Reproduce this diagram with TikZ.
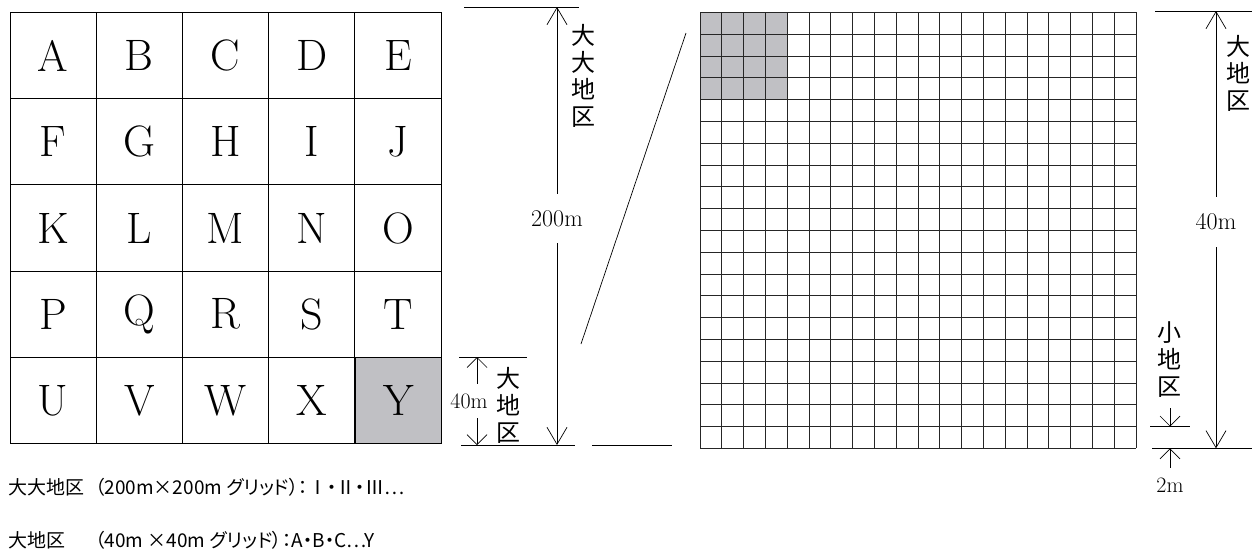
\documentclass[tikz,border=0pt]{standalone}
\usepackage{fontspec}
\newfontfamily\cjk{Noto Sans CJK JP}
\newfontfamily\cjkp[RawFeature=+palt]{Noto Sans CJK JP}
\usepackage{xcolor}
\usetikzlibrary{arrows.meta,positioning}
\definecolor{cellgray}{RGB}{192,192,196}

\begin{document}
\begin{tikzpicture}[x=1pt,y=-1pt,
cell/.style={draw,line width=0.9pt,minimum size=86.2pt,inner sep=0pt,font=\fontsize{44}{44}\selectfont},
vlabel/.style={align=center,inner sep=0pt,font=\cjk\fontsize{24}{27}\selectfont},
dimtext/.style={inner sep=0pt,font=\fontsize{24}{24}\selectfont},
keytext/.style={anchor=west,inner sep=0pt,font=\cjkp\fontsize{19}{19}\selectfont},
dim/.style={-{Straight Barb[length=17pt,width=20pt]},line width=0.7pt},
smalldim/.style={-{Straight Barb[length=10pt,width=20pt]},line width=0.7pt},
rule/.style={line width=0.8pt},
gridline/.style={line width=0.7pt,black!85}]
\useasboundingbox (0,0) rectangle (1259,550);
\foreach \l [count=\i from 0] in {A,B,C,D,E,F,G,H,I,J,K,L,M,N,O,P,Q,R,S,T,U,V,W,X}{
  \pgfmathtruncatemacro\c{mod(\i,5)}
  \pgfmathtruncatemacro\r{div(\i,5)}
  \node[cell] (\l) at ({53.1+86.2*\c},{55.6+86.2*\r}) {\l};
}
\node[cell,fill=cellgray,right=0pt of X] (Y) {Y};
\draw[rule] (464,7) -- (579,7);
\draw[rule] (461,445) -- (575,445);
\coordinate (bigtop) at (557,7);
\coordinate (bigbot) at (557,445);
\node[dimtext,minimum height=49pt] (d200) at (557,218.5) {200m};
\draw[dim] (d200.north) -- (bigtop);
\draw[dim] (d200.south) -- (bigbot);
\node[vlabel] (bigbig) at (583,76) {大\\大\\地\\区};
\draw[rule] (459,357) -- (527,357);
\coordinate (midtop) at (477,357);
\coordinate (midbot) at (477,445);
\node[dimtext,minimum height=34pt,font=\fontsize{22}{22}\selectfont] (d40) at (469,401) {40m};
\draw[smalldim] (d40.north -| midtop) -- (midtop);
\draw[smalldim] (d40.south -| midbot) -- (midbot);
\node[vlabel] (big) at (508,405) {大\\地\\区};
\draw[line width=0.7pt] (686,33) -- (581,344);
\draw[rule] (592,445) -- (672,445);
\fill[cellgray] (700,12.3) rectangle (787.2,99.5);
\foreach \k in {0,...,20}{
  \draw[gridline] ({700+21.8*\k},12.3) -- ({700+21.8*\k},448.3);
  \draw[gridline] (700,{12.3+21.8*\k}) -- (1136,{12.3+21.8*\k});
}
\draw[rule] (1155,11) -- (1252,11);
\draw[rule] (1152,448.3) -- (1252,448.3);
\coordinate (rtop) at (1216,11);
\coordinate (rbot) at (1216,448.3);
\node[dimtext,minimum height=50pt] (r40) at (1216,222) {40m};
\draw[dim] (r40.north) -- (rtop);
\draw[dim] (r40.south) -- (rbot);
\node[vlabel] (rbig) at (1238,73) {大\\地\\区};
\node[vlabel] (small) at (1169,360) {小\\地\\区};
\draw[rule] (1150,426.5) -- (1190,426.5);
\coordinate (stop) at (1170,426.5);
\coordinate (sbot) at (1170,448.3);
\draw[smalldim] (1170,408) -- (stop);
\node[dimtext,font=\fontsize{22}{22}\selectfont,minimum height=34pt] (d2) at (1170,485) {2m};
\draw[smalldim] (d2.north) -- (sbot);
\node[keytext] (key1) at (8,487) {大大地区};
\node[keytext] (key1b) at (95,487) {（200m×200m グリッド）：Ⅰ・Ⅱ・Ⅲ…};
\node[keytext] (key2) at (8,540) {大地区};
\node[keytext] (key2b) at (95,540) {（40m ×40m グリッド）：A・B・C…Y};
\end{tikzpicture}
\end{document}
